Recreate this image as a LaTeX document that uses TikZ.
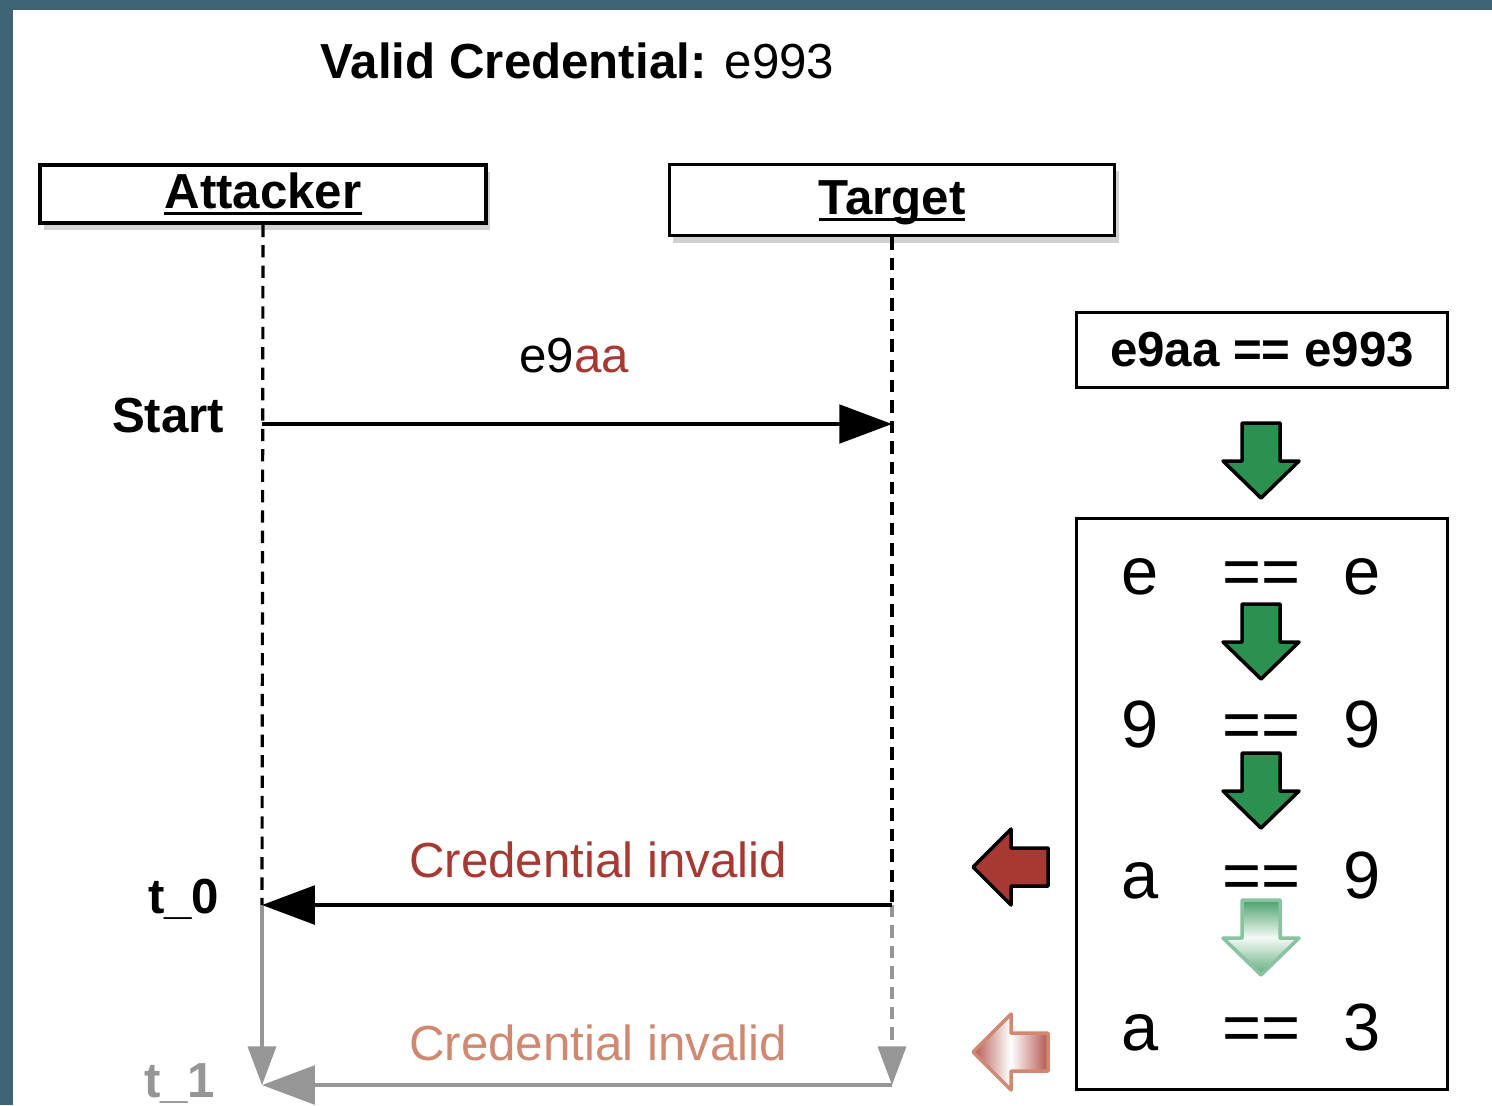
\documentclass[tikz,border=0pt]{standalone}
\usepackage{fontspec}
\setmainfont{Liberation Sans}
\usetikzlibrary{arrows.meta,shadows}
\definecolor{bordteal}{RGB}{62,99,116}
\definecolor{okgreen}{RGB}{42,145,80}
\definecolor{badred}{RGB}{168,56,50}
\definecolor{fadered}{RGB}{208,136,112}
\definecolor{fadegray}{RGB}{150,150,150}
\newcommand{\thickul}[1]{\setbox0\hbox{#1}\rlap{\rule[-2.1pt]{\wd0}{0.9pt}}\box0}
\tikzset{
  txt/.style={inner sep=0,font=\fontsize{14}{17}\selectfont},
  btxt/.style={inner sep=0,font=\fontsize{14}{17}\selectfont\bfseries},
  big/.style={inner sep=0,font=\fontsize{19}{22}\selectfont},
  actor/.style={draw=black,line width=1pt,fill=white,inner sep=0,
    text height=11pt,text depth=3pt,
    font=\fontsize{14}{17}\selectfont\bfseries,
    drop shadow={shadow xshift=.04cm,shadow yshift=-.07cm,opacity=.35}},
  lifeline/.style={line width=0.9pt,dash pattern=on 3.5pt off 2.3pt},
  msg/.style={line width=0.9pt,-{Triangle[length=15pt,width=11pt]}},
  greyhead/.style={line width=0.9pt,fadegray,-{Triangle[length=11pt,width=8pt]}},
  goodarr/.style={draw=black,fill=okgreen,line width=1pt,line join=round},
  fadearr/.style={draw=okgreen!55!white,line width=1pt,line join=round,
    top color=okgreen!85!white,bottom color=okgreen!75!white,middle color=okgreen!5!white},
  badarr/.style={draw=black,fill=badred,line width=1pt,line join=round},
  fadebad/.style={draw=fadered,line width=1pt,line join=round,
    left color=badred!85!white,right color=badred!85!white,middle color=white}
}
% block arrows: x, y, style
\newcommand{\dnarrow}[3]{\draw[#3] (#1,#2) ++(-19,0) -- ++(38,0) -- ++(0,38) -- ++(19,0) -- ++(-38,37) -- ++(-38,-37) -- ++(19,0) -- cycle;}
\newcommand{\lfarrow}[3]{\draw[#3] (#1,#2) -- ++(38,-38) -- ++(0,19) -- ++(37,0) -- ++(0,38) -- ++(-37,0) -- ++(0,19) -- cycle;}

\begin{document}
\begin{tikzpicture}[x=0.01cm,y=-0.01cm]
\useasboundingbox (0,0) rectangle (1492,1105);
%background
\fill[bordteal] (0,0) rectangle (1492,1105);
\fill[white] (13,10) rectangle (1492,1105);
%title
\node[txt,anchor=base west] (title) at (320,78) {\textbf{Valid Credential:} e993};
%actors
\node[actor,minimum width=4.46cm,minimum height=0.58cm] (att) at (263,194) {\thickul{Attacker}};
\node[actor,minimum width=4.45cm,minimum height=0.71cm] (tgt) at (892,200) {\thickul{Target}};
\coordinate (a0) at (262,424);
\coordinate (b0) at (892,424);
\coordinate (a1) at (262,905);
\coordinate (b1) at (892,905);
\coordinate (a2) at (262,1085);
\coordinate (b2) at (892,1085);
%lifelines
\draw[lifeline] (att.south) -- (a1);
\draw[lifeline] (tgt.south) -- (b1);
\draw[greyhead] (a1) -- (a2);
\draw[greyhead,dash pattern=on 3.5pt off 2.3pt] (b1) -- (b2);
%messages
\draw[msg] (a0) -- (b0);
\draw[msg] (b1) -- (a1);
\draw[msg,fadegray] (b2) -- (a2);
%labels
\node[btxt,anchor=base east] (start) at (225,432) {Start};
\node[btxt,anchor=base east] (t0) at (220,913) {t\_0};
\node[btxt,anchor=base east,text=fadegray] (t1) at (216,1097) {t\_1};
\node[txt,anchor=base] (guess) at (574,372) {e9\textcolor{badred}{aa}};
\node[txt,anchor=base,text=badred] (inv0) at (598,877) {Credential invalid};
\node[txt,anchor=base,text=fadered] (inv1) at (598,1060) {Credential invalid};
%comparison
\node[draw,line width=1pt,btxt,minimum width=3.71cm,minimum height=0.75cm] (cmp) at (1262,350) {e9aa == e993};
\node[draw,line width=1pt,minimum width=3.71cm,minimum height=5.71cm] (chk) at (1262,804) {};
\foreach \l/\r/\y [count=\i] in {e/e/594,9/9/747,a/9/898,a/3/1050}{
  \node[big,anchor=base] (l\i) at (1140,\y) {\l};
  \node[big,anchor=base] (q\i) at (1261,\y) {==};
  \node[big,anchor=base] (r\i) at (1362,\y) {\r};
}
\dnarrow{1261}{423}{goodarr}
\dnarrow{1261}{604}{goodarr}
\dnarrow{1261}{753}{goodarr}
\dnarrow{1261}{900}{fadearr}
\lfarrow{973}{867}{badarr}
\lfarrow{973}{1052}{fadebad}
\end{tikzpicture}
\end{document}
